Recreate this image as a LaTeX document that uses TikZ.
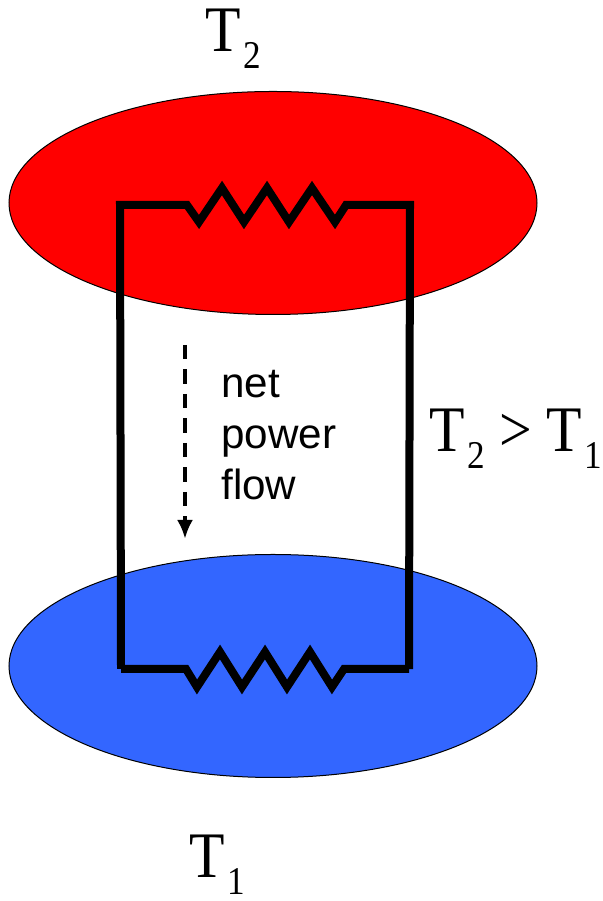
\documentclass[tikz,border=0pt]{standalone}
\usepackage{fontspec}
\usetikzlibrary{shapes.geometric, arrows.meta}
\setmainfont{Liberation Serif}
\setsansfont{Liberation Sans}
\definecolor{hotred}{RGB}{255,0,0}
\definecolor{coldblue}{RGB}{51,102,255}
\newcommand{\lowidx}[1]{\kern0.05cm\raisebox{-0.29cm}{\fontsize{20}{20}\selectfont #1}}
\begin{document}
\begin{tikzpicture}[
    bath/.style={draw, line width=0.02cm, ellipse, minimum width=10.56cm, minimum height=4.46cm, inner sep=0},
    wire/.style={line width=0.16cm, miter limit=10},
    temp/.style={font=\fontsize{33}{34}\selectfont, inner sep=0, anchor=base west, yscale=1.12, transform shape},
    flowtext/.style={font=\sffamily\fontsize{24}{29}\selectfont, inner sep=0, align=left, anchor=north west},
    flowarr/.style={line width=0.08cm, dash pattern=on 0.29cm off 0.2cm, arrows={-{Latex[length=0.38cm,width=0.32cm]}}}]
    \useasboundingbox (0,0) rectangle (12.04,18.02);
    \node[bath, fill=hotred] (hot) at (5.46,13.96) {};
    \node[bath, fill=coldblue] (cold) at (5.46,4.7) {};
    % top loop
    \coordinate (tl) at (2.4,13.92);
    \coordinate (tr) at (8.2,13.92);
    \coordinate (bl) at (2.42,4.64);
    \coordinate (br) at (8.18,4.64);
    \draw[wire] (bl) -- ++(0,0.06) -- (tl) -- ++(1.34,0)
      -- ++(0.24,-0.34) -- ++(0.46,0.68) -- ++(0.44,-0.68) -- ++(0.46,0.68)
      -- ++(0.44,-0.68) -- ++(0.46,0.68) -- ++(0.46,-0.68) -- ++(0.22,0.34)
      -- (tr) -- (br |- bl) -- ++(0,0.06);
    % bottom resistor
    \draw[wire] (bl) -- ++(1.3,0)
      -- ++(0.22,-0.36) -- ++(0.46,0.7) -- ++(0.44,-0.7) -- ++(0.46,0.7)
      -- ++(0.44,-0.7) -- ++(0.46,0.7) -- ++(0.44,-0.7) -- ++(0.24,0.36) -- (br);
    \coordinate (flowtop) at (3.7,11.12);
    \coordinate (flowend) at (3.7,7.24);
    \draw[flowarr] (flowtop) -- (flowend);
    \node[flowtext] (flow) at (4.42,10.62) {net\\power\\flow};
    \node[temp] at (4.1,16.98) (toplabel) {T\lowidx{2}};
    \node[temp] at (3.78,0.46) (botlabel) {T\lowidx{1}};
    \node[temp] at (8.58,8.98) (compare) {T\lowidx{2} > T\lowidx{1}};
\end{tikzpicture}
\end{document}
